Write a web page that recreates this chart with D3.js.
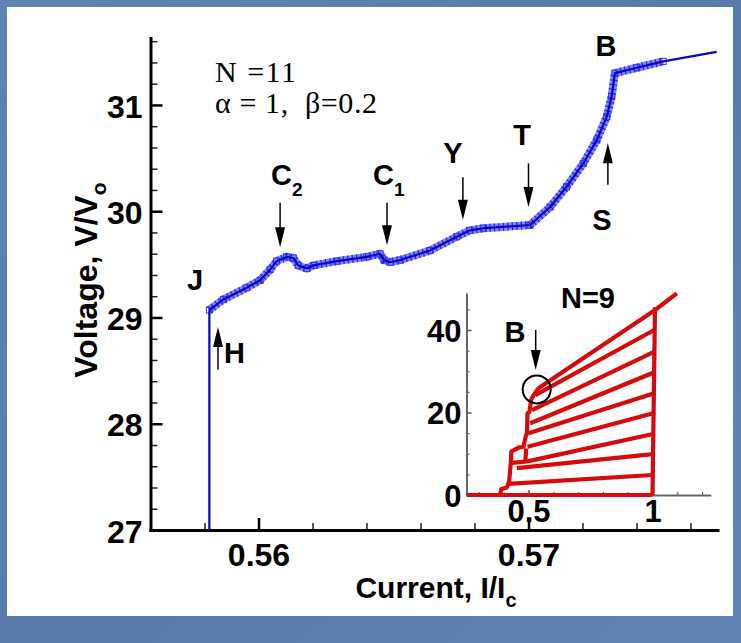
<!DOCTYPE html>
<html>
<head>
<meta charset="utf-8">
<script src="https://cdn.jsdelivr.net/npm/d3@7"></script>
<style>
  body { margin: 0; background: #5b7fac; }
  svg { display: block; }
  .tick text { font-family: "Liberation Sans", Arial, sans-serif; font-weight: bold; fill: #000; }
  .lbl { font-family: "Liberation Sans", Arial, sans-serif; font-weight: bold; fill: #000; }
  .serif { font-family: "Liberation Serif", "Times New Roman", serif; fill: #000; white-space: pre; }
</style>
</head>
<body>
<div id="chart"></div>
<script>
// main trace: N = 11, current I/Ic against voltage V/Vo
const currentIc = [0.55818, 0.55818, 0.55870, 0.55956, 0.56006, 0.56043, 0.56067, 0.56104, 0.56129,
  0.56147, 0.56179, 0.56203, 0.56290, 0.56401, 0.56450, 0.56465, 0.56487, 0.56524, 0.56635, 0.56734,
  0.56783, 0.56833, 0.57006, 0.57080, 0.57141, 0.57203, 0.57253, 0.57290, 0.57308, 0.57320, 0.57401,
  0.57499, 0.57697];
const voltage = [27.00, 29.07, 29.17, 29.28, 29.35, 29.45, 29.53, 29.57, 29.56, 29.49, 29.46, 29.49,
  29.53, 29.57, 29.60, 29.54, 29.52, 29.54, 29.63, 29.76, 29.82, 29.84, 29.87, 30.04, 30.23, 30.45,
  30.67, 30.89, 31.08, 31.30, 31.35, 31.41, 31.50];
const markedFrom = 1, markedTo = 31; // simulated points drawn with markers

const xTicks = [0.56, 0.57];
const yTicks = [27, 28, 29, 30, 31];

// inset: N = 9 family of branches
const stairI = [0.386, 0.390, 0.413, 0.422, 0.429, 0.431, 0.460, 0.480, 0.488, 0.494, 0.496, 0.504, 0.510, 0.520, 0.530, 0.540];
const stairV = [0.2, 1.4, 1.9, 3.2, 8.1, 10.5, 11.5, 11.7, 14.1, 15.0, 19.8, 20.2, 23.0, 24.2, 25.0, 25.9];
const loopI = [0.433, 0.487, 0.491];
const loopV = [7.8, 8.1, 11.3];
const branchStartI = [0.419, 0.453, 0.491, 0.496, 0.500, 0.507, 0.514, 0.527, 0.540];
const branchStartV = [2.7, 6.5, 8.1, 11.7, 15.0, 17.4, 20.6, 24.2, 25.9];
const branchEndI = [1.000, 1.001, 1.002, 1.003, 1.004, 1.005, 1.006, 1.007, 1.009];
const branchEndV = [4.85, 9.9, 14.8, 19.8, 24.6, 29.7, 34.7, 40.0, 44.8];
const topExtension = [1.098, 48.9];
const zeroBranchI = [0.25, 1.0];
const returnI = [1.0, 1.01];
const returnV = [0, 45.5];
const insetXTicks = [0.5, 1];
const insetYTicks = [0, 20, 40];

const width = 741, height = 643;

const svg = d3.select('#chart').append('svg')
  .attr('width', width)
  .attr('height', height);

const defs = svg.append('defs');
const grad = defs.append('linearGradient').attr('id', 'frame')
  .attr('x1', 0).attr('y1', 0).attr('x2', 1).attr('y2', 1);
grad.append('stop').attr('offset', 0).attr('stop-color', '#5f83b2');
grad.append('stop').attr('offset', 0.5).attr('stop-color', '#577ba9');
grad.append('stop').attr('offset', 1).attr('stop-color', '#6085b3');

svg.append('rect')
  .attr('width', width).attr('height', height)
  .attr('fill', 'url(#frame)');
svg.append('rect')
  .attr('x', 7).attr('y', 7)
  .attr('width', 726).attr('height', 609)
  .attr('fill', '#fff');

const x = d3.scaleLinear().domain([0.556, 0.577]).range([150.5, 717.5]);
const y = d3.scaleLinear().domain([27, 31.63]).range([530, 38]);

// ---- main axes
const minorX = d3.range(278, 289).map(k => +(k * 0.002).toFixed(3)).filter(v => v > 0.556 && !xTicks.includes(v));
const minorY = d3.range(136, 159).map(k => +(k * 0.2).toFixed(1)).filter(v => v > 27 && v < 31.63 && !yTicks.includes(v));

svg.append('g')
  .attr('transform', 'translate(0,530)')
  .call(d3.axisBottom(x).tickValues(minorX).tickFormat('').tickSizeInner(-7).tickSizeOuter(0))
  .call(g => g.select('.domain').remove())
  .call(g => g.selectAll('line').attr('stroke', '#222').attr('stroke-width', 1.5));

svg.append('g')
  .attr('transform', 'translate(150.5,0)')
  .call(d3.axisLeft(y).tickValues(minorY).tickFormat('').tickSizeInner(-7).tickSizeOuter(0))
  .call(g => g.select('.domain').remove())
  .call(g => g.selectAll('line').attr('stroke', '#222').attr('stroke-width', 1.5));

const gx = svg.append('g')
  .attr('transform', 'translate(0,530)')
  .call(d3.axisBottom(x).tickValues(xTicks).tickFormat(d3.format('.2f'))
    .tickSizeInner(-12).tickSizeOuter(0).tickPadding(13));
gx.selectAll('.tick line').attr('stroke', '#000').attr('stroke-width', 2.5);
gx.selectAll('.tick text').attr('font-size', 32);
gx.select('.domain').attr('stroke', '#000').attr('stroke-width', 3).attr('stroke-linecap', 'square');

const gy = svg.append('g')
  .attr('transform', 'translate(150.5,0)')
  .call(d3.axisLeft(y).tickValues(yTicks).tickFormat(d3.format('d'))
    .tickSizeInner(-12).tickSizeOuter(0).tickPadding(8));
gy.selectAll('.tick line').attr('stroke', '#000').attr('stroke-width', 2.5);
gy.selectAll('.tick text').attr('font-size', 32).attr('dy', '0.38em');
gy.select('.domain').attr('stroke', '#000').attr('stroke-width', 3).attr('stroke-linecap', 'square');

// axis titles
const xTitle = svg.append('text').attr('class', 'lbl')
  .attr('x', 436).attr('y', 598)
  .attr('text-anchor', 'middle')
  .attr('font-size', 30);
xTitle.append('tspan').text('Current, I/I');
xTitle.append('tspan').attr('font-size', 20).attr('dy', 9).text('c');

const yTitle = svg.append('text').attr('class', 'lbl')
  .attr('transform', 'translate(97,280) rotate(-90)')
  .attr('text-anchor', 'middle')
  .attr('font-size', 32);
yTitle.append('tspan').text('Voltage, V/V');
yTitle.append('tspan').attr('font-size', 21).attr('dy', 9).text('o');

// ---- main trace
const points = currentIc.map((c, i) => ({ c, v: voltage[i] }));
const line = d3.line().x(d => x(d.c)).y(d => y(d.v));
const marked = points.slice(markedFrom, markedTo + 1);

svg.append('path')
  .attr('d', line(marked))
  .attr('fill', 'none')
  .attr('stroke', '#5050ff')
  .attr('stroke-opacity', 0.7)
  .attr('stroke-width', 8)
  .attr('stroke-linejoin', 'round');

svg.append('path')
  .attr('d', line(marked))
  .attr('fill', 'none')
  .attr('stroke', '#2020f0')
  .attr('stroke-width', 8)
  .attr('stroke-dasharray', '1.2,3.3');

svg.selectAll('rect.pt')
  .data(marked)
  .enter()
  .append('rect')
  .attr('class', 'pt')
  .attr('x', d => x(d.c) - 3)
  .attr('y', d => y(d.v) - 3)
  .attr('width', 6).attr('height', 6)
  .attr('fill', 'none')
  .attr('stroke', '#3030ff')
  .attr('stroke-width', 1);

svg.append('path')
  .attr('d', line(points))
  .attr('fill', 'none')
  .attr('stroke', '#0a0aae')
  .attr('stroke-width', 2.2)
  .attr('stroke-linejoin', 'round');

// ---- annotations
svg.append('text').attr('class', 'serif')
  .attr('x', 215).attr('y', 82).attr('font-size', 30)
  .attr('letter-spacing', 1.5)
  .text('N =11');
svg.append('text').attr('class', 'serif')
  .attr('x', 215).attr('y', 113).attr('font-size', 30)
  .attr('letter-spacing', 0.6)
  .text('\u03b1 = 1,  \u03b2=0.2');

function arrow(px, pyTail, pyTip) {
  const dir = pyTip > pyTail ? 1 : -1;
  svg.append('line')
    .attr('x1', px).attr('x2', px)
    .attr('y1', pyTail).attr('y2', pyTip - dir * 12)
    .attr('stroke', '#000').attr('stroke-width', 1.5);
  svg.append('path')
    .attr('d', `M${px},${pyTip} L${px - 5},${pyTip - dir * 20} L${px + 5},${pyTip - dir * 20} Z`)
    .attr('fill', '#000');
}

function label(txt, cx, by, sub) {
  const t = svg.append('text').attr('class', 'lbl')
    .attr('x', cx).attr('y', by)
    .attr('text-anchor', sub ? 'start' : 'middle')
    .attr('font-size', 29);
  t.append('tspan').text(txt);
  if (sub) t.append('tspan').attr('font-size', 19).attr('dy', 11).text(sub);
}

// arrows are placed at the current where they point, in data units
arrow(x(0.5608), y(30.08), y(29.66));
arrow(x(0.56476), y(30.08), y(29.68));
arrow(x(0.56757), y(30.32), y(29.92));
arrow(x(0.5700), y(30.45), y(30.04));
arrow(x(0.57294), y(30.25), y(30.64));
arrow(x(0.5585), y(28.51), y(28.91));

label('B', 606, 56);
label('T', 522, 145);
label('Y', 453, 163);
label('S', 602, 230);
label('C', 271, 185, '2');
label('C', 373, 185, '1');
label('J', 195, 290);
svg.append('text').attr('class', 'lbl')
  .attr('x', 224).attr('y', 363).attr('font-size', 29).text('H');

// ---- inset
const xi = d3.scaleLinear().domain([0.25, 1.235]).range([466.5, 710.8]);
const yi = d3.scaleLinear().domain([0, 49]).range([495, 292.9]);

const insetMinorX = d3.range(3, 13).map(k => +(k * 0.1).toFixed(1)).filter(v => !insetXTicks.includes(v));
const insetMinorY = d3.range(1, 10).map(k => k * 5).filter(v => !insetYTicks.includes(v));

svg.append('g')
  .attr('transform', 'translate(0,495)')
  .call(d3.axisBottom(xi).tickValues(insetMinorX).tickFormat('').tickSizeInner(-3).tickSizeOuter(0))
  .call(g => g.select('.domain').remove())
  .call(g => g.selectAll('line').attr('stroke', '#666').attr('stroke-width', 1.2));
svg.append('g')
  .attr('transform', 'translate(466.5,0)')
  .call(d3.axisLeft(yi).tickValues(insetMinorY).tickFormat('').tickSizeInner(-3).tickSizeOuter(0))
  .call(g => g.select('.domain').remove())
  .call(g => g.selectAll('line').attr('stroke', '#666').attr('stroke-width', 1.2));

const gxi = svg.append('g')
  .attr('transform', 'translate(0,495)')
  .call(d3.axisBottom(xi).tickValues(insetXTicks).tickFormat(d => d === 1 ? '1' : '0.5')
    .tickSizeInner(-5).tickSizeOuter(0).tickPadding(5));
gxi.selectAll('.tick line').attr('stroke', '#555').attr('stroke-width', 1.5);
gxi.selectAll('.tick text').attr('font-size', 31);
gxi.select('.domain').attr('stroke', '#666').attr('stroke-width', 2);

const gyi = svg.append('g')
  .attr('transform', 'translate(466.5,0)')
  .call(d3.axisLeft(yi).tickValues(insetYTicks).tickFormat(d3.format('d'))
    .tickSizeInner(-5).tickSizeOuter(0).tickPadding(5));
gyi.selectAll('.tick line').attr('stroke', '#555').attr('stroke-width', 1.5);
gyi.selectAll('.tick text').attr('font-size', 31).attr('dy', '0.36em');
gyi.select('.domain').attr('stroke', '#666').attr('stroke-width', 2);

const li = d3.line().x(d => xi(d[0])).y(d => yi(d[1]));
const red = '#d60a0a';
const insetPaths = [
  zeroBranchI.map(c => [c, 0]),
  returnI.map((c, i) => [c, returnV[i]]),
  stairI.map((c, i) => [c, stairV[i]]),
  loopI.map((c, i) => [c, loopV[i]])
];
branchStartI.forEach((c, i) => {
  const seg = [[c, branchStartV[i]], [branchEndI[i], branchEndV[i]]];
  if (i === branchStartI.length - 1) seg.push(topExtension);
  insetPaths.push(seg);
});

svg.selectAll('path.branch')
  .data(insetPaths)
  .enter()
  .append('path')
  .attr('class', 'branch')
  .attr('d', li)
  .attr('fill', 'none')
  .attr('stroke', red)
  .attr('stroke-width', 4.2)
  .attr('stroke-linejoin', 'round');

svg.append('circle')
  .attr('cx', xi(0.533)).attr('cy', yi(25.6)).attr('r', 14)
  .attr('fill', 'none').attr('stroke', '#000').attr('stroke-width', 2);

arrow(xi(0.529), yi(40), yi(30.3));
label('B', 515, 342);
svg.append('text').attr('class', 'lbl')
  .attr('x', 588).attr('y', 308).attr('text-anchor', 'middle')
  .attr('font-size', 29).text('N=9');
</script>
</body>
</html>
